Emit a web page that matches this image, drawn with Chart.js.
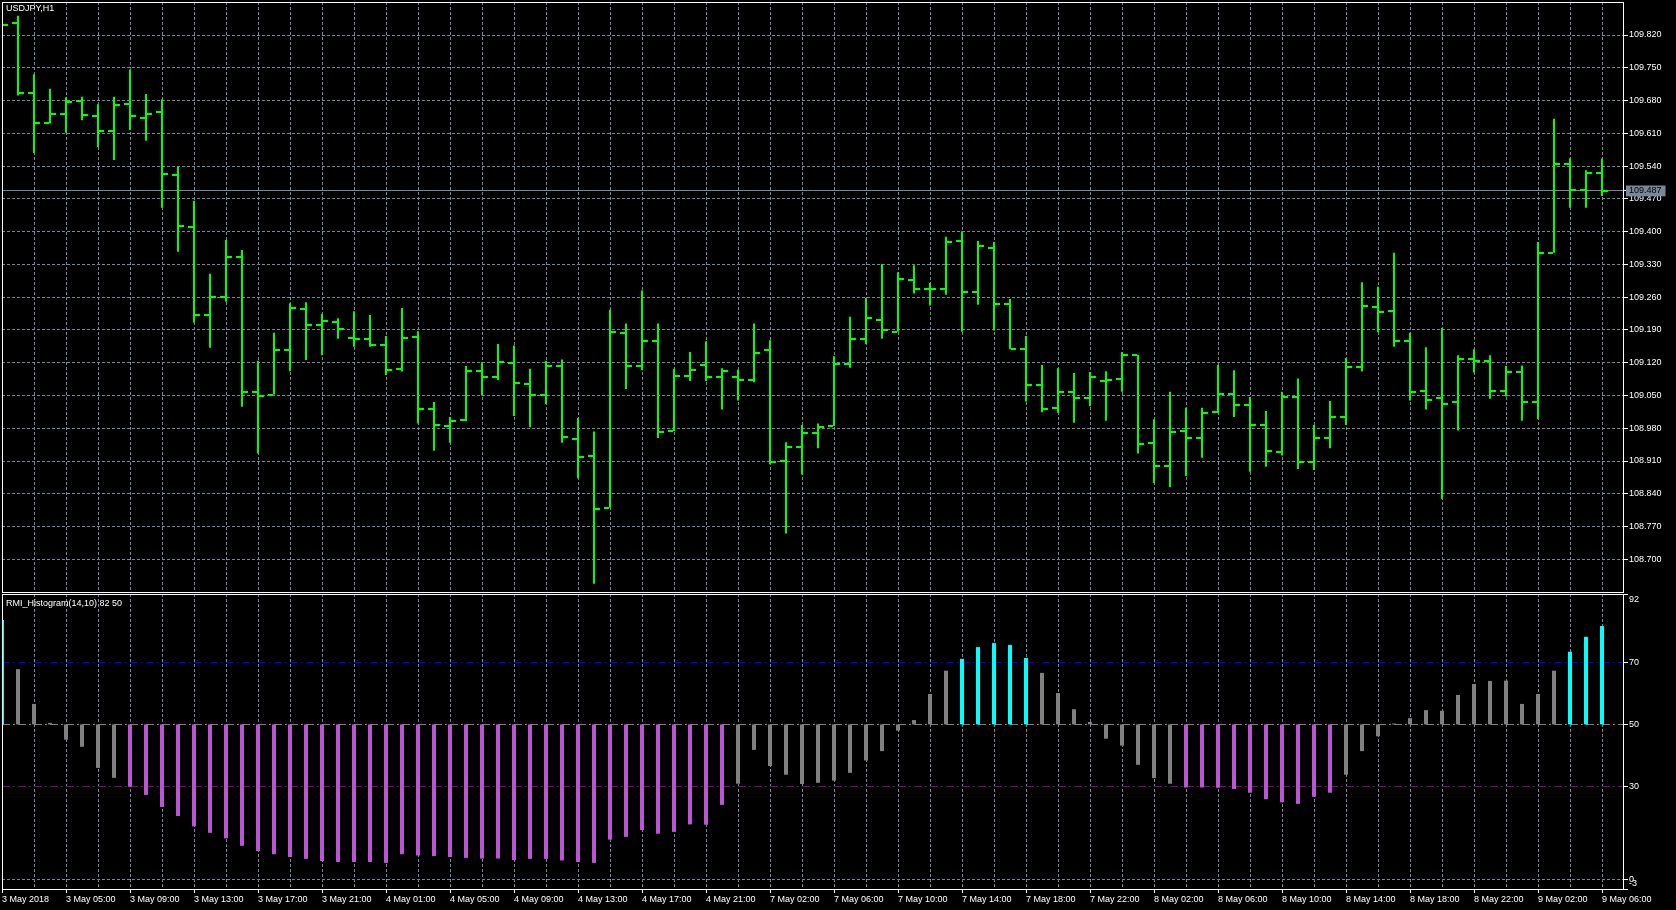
<!DOCTYPE html>
<html>
<head>
<meta charset="utf-8">
<title>USDJPY,H1</title>
<script src="https://cdn.jsdelivr.net/npm/chart.js@4.4.0/dist/chart.umd.min.js"></script>
<style>
  html, body { margin: 0; padding: 0; background: #000; overflow: hidden; }
  #pricePane { position: absolute; left: 0; top: 0; }
  #rmiPane { position: absolute; left: 0; top: 593px; }
</style>
</head>
<body>
<canvas id="pricePane" width="1676" height="594"></canvas>
<canvas id="rmiPane" width="1676" height="317"></canvas>
<script>
// tick labels of the time axis, one every 4 hourly bars
const timeLabels = ['3 May 2018', '3 May 05:00', '3 May 09:00', '3 May 13:00', '3 May 17:00', '3 May 21:00',
  '4 May 01:00', '4 May 05:00', '4 May 09:00', '4 May 13:00', '4 May 17:00', '4 May 21:00',
  '7 May 02:00', '7 May 06:00', '7 May 10:00', '7 May 14:00', '7 May 18:00', '7 May 22:00',
  '8 May 02:00', '8 May 06:00', '8 May 10:00', '8 May 14:00', '8 May 18:00', '8 May 22:00',
  '9 May 02:00', '9 May 06:00'];

const priceTicks = [108.700, 108.770, 108.840, 108.910, 108.980, 109.050, 109.120, 109.190, 109.260,
  109.330, 109.400, 109.470, 109.540, 109.610, 109.680, 109.750, 109.820];
const rmiTicks = [-3, 0, 30, 50, 70, 92];

// USDJPY H1 bars
const opens = [109.850, 109.845, 109.696, 109.633, 109.652, 109.678, 109.647, 109.614, 109.672, 109.642,
  109.656, 109.520, 109.410, 109.222, 109.260, 109.346, 109.058, 109.052, 109.148, 109.235,
  109.201, 109.207, 109.173, 109.171, 109.157, 109.107, 109.175, 109.022, 108.985, 108.997,
  109.102, 109.089, 109.120, 109.075, 109.051, 109.113, 108.957, 108.921, 108.810, 109.184,
  109.113, 109.167, 108.974, 109.092, 109.116, 109.089, 109.089, 109.083, 109.148, 108.910,
  108.939, 108.970, 108.985, 109.117, 109.170, 109.211, 109.186, 109.297, 109.278, 109.278,
  109.380, 109.271, 109.365, 109.246, 109.149, 109.072, 109.023, 109.058, 109.045, 109.081,
  109.085, 109.137, 108.949, 108.899, 108.974, 108.960, 109.014, 109.054, 109.030, 108.986,
  108.929, 109.047, 108.908, 108.960, 109.005, 109.110, 109.240, 109.231, 109.167, 109.060,
  109.045, 109.036, 109.128, 109.124, 109.060, 109.100, 109.036, 109.355, 109.545, 109.488,
  109.526];
const highs = [109.862, 109.861, 109.736, 109.705, 109.687, 109.688, 109.672, 109.688, 109.746, 109.694,
  109.683, 109.539, 109.466, 109.310, 109.382, 109.361, 109.124, 109.184, 109.247, 109.249,
  109.224, 109.215, 109.230, 109.222, 109.177, 109.237, 109.187, 109.036, 109.004, 109.113,
  109.121, 109.160, 109.157, 109.107, 109.124, 109.127, 109.002, 108.973, 109.233, 109.204,
  109.274, 109.204, 109.107, 109.143, 109.166, 109.108, 109.105, 109.204, 109.168, 108.950,
  108.987, 108.990, 109.134, 109.218, 109.258, 109.331, 109.313, 109.328, 109.290, 109.389,
  109.401, 109.380, 109.378, 109.256, 109.177, 109.115, 109.108, 109.098, 109.100, 109.102,
  109.143, 109.137, 108.999, 109.058, 109.024, 109.024, 109.115, 109.104, 109.047, 109.017,
  109.058, 109.086, 108.987, 109.038, 109.130, 109.292, 109.282, 109.355, 109.184, 109.153,
  109.194, 109.136, 109.149, 109.136, 109.113, 109.114, 109.378, 109.641, 109.557, 109.531,
  109.556];
const lows = [109.836, 109.691, 109.568, 109.631, 109.611, 109.638, 109.581, 109.553, 109.617, 109.594,
  109.451, 109.357, 109.206, 109.152, 109.250, 109.026, 108.926, 109.052, 109.102, 109.126,
  109.136, 109.171, 109.154, 109.154, 109.094, 109.101, 108.990, 108.932, 108.949, 108.995,
  109.050, 109.083, 109.006, 108.982, 109.032, 108.949, 108.873, 108.648, 108.810, 109.064,
  109.104, 108.959, 108.974, 109.081, 109.081, 109.020, 109.039, 109.078, 108.903, 108.755,
  108.881, 108.937, 108.985, 109.109, 109.160, 109.171, 109.186, 109.268, 109.242, 109.265,
  109.186, 109.244, 109.189, 109.149, 109.037, 109.014, 109.013, 108.992, 109.027, 108.996,
  109.058, 108.926, 108.863, 108.854, 108.878, 108.917, 109.012, 109.004, 108.887, 108.898,
  108.922, 108.893, 108.891, 108.937, 108.987, 109.101, 109.185, 109.154, 109.039, 109.020,
  108.829, 108.975, 109.099, 109.043, 109.048, 108.996, 109.000, 109.355, 109.451, 109.451,
  109.476];
const closes = [109.842, 109.697, 109.633, 109.652, 109.676, 109.650, 109.616, 109.670, 109.646, 109.652,
  109.524, 109.413, 109.222, 109.260, 109.346, 109.058, 109.049, 109.148, 109.237, 109.201,
  109.210, 109.191, 109.170, 109.158, 109.105, 109.173, 109.022, 108.987, 108.996, 109.102,
  109.089, 109.122, 109.077, 109.050, 109.112, 108.962, 108.919, 108.807, 109.186, 109.112,
  109.167, 108.973, 109.092, 109.105, 109.089, 109.102, 109.083, 109.141, 108.907, 108.939,
  108.970, 108.983, 109.117, 109.170, 109.215, 109.190, 109.299, 109.278, 109.278, 109.378,
  109.271, 109.370, 109.246, 109.149, 109.072, 109.022, 109.058, 109.045, 109.089, 109.084,
  109.137, 108.946, 108.899, 108.973, 108.960, 109.013, 109.054, 109.030, 108.986, 108.932,
  109.047, 108.908, 108.960, 109.005, 109.110, 109.242, 109.229, 109.167, 109.058, 109.040,
  109.032, 109.128, 109.124, 109.060, 109.100, 109.036, 109.355, 109.545, 109.488, 109.526,
  109.487];

// RMI_Histogram(14,10) values
const rmi = [83.6, 67.8, 56.6, 50.5, 45.1, 42.8, 36.0, 32.8, 29.9, 27.3,
  23.4, 20.5, 17.2, 15.1, 13.3, 10.9, 9.2, 8.2, 7.3, 6.7,
  6.0, 5.7, 5.7, 5.7, 5.4, 8.2, 7.8, 7.6, 7.3, 7.0,
  6.8, 6.8, 6.3, 6.7, 6.7, 6.2, 5.7, 5.4, 12.9, 13.8,
  16.0, 14.8, 15.4, 17.8, 17.7, 24.1, 30.9, 41.8, 36.6, 33.8,
  30.8, 31.2, 31.9, 34.4, 38.4, 41.4, 48.0, 51.4, 59.8, 67.3,
  71.1, 74.9, 76.2, 75.6, 71.4, 66.6, 60.1, 54.9, 50.8, 45.4,
  43.2, 37.0, 32.7, 30.9, 29.7, 29.7, 29.6, 29.2, 28.0, 25.9,
  24.9, 24.4, 26.7, 28.0, 33.8, 41.4, 46.2, 50.3, 52.0, 54.6,
  54.4, 59.5, 63.0, 64.0, 64.1, 56.6, 59.8, 67.3, 73.4, 78.2,
  81.7];
const RMI_BASE = 50, RMI_HIGH = 70, RMI_LOW = 30;

const BAR_COLOR = '#00ff00';
const GRID = '#778899';
const lastClose = closes[closes.length - 1];
const xMax = 101.3125;   // empty space right of the last bar (chart shift)

Chart.defaults.font.family = '"Liberation Sans", Arial, sans-serif';
Chart.defaults.font.size = 9;
Chart.defaults.color = '#fff';

// little horizontal ticks for open (left) and close (right)
function tickImage(side) {
  const c = document.createElement('canvas');
  c.width = 12; c.height = 2;
  const g = c.getContext('2d');
  g.fillStyle = BAR_COLOR;
  if (side === 'open') g.fillRect(0, 0, 5, 2);
  else g.fillRect(7, 0, 5, 2);
  return c;
}

// no extra room for half labels at the ends of an axis
function noLabelPadding(s) {
  s.paddingTop = 0; s.paddingBottom = 0; s.paddingLeft = 0; s.paddingRight = 0;
}

const framePlugin = {
  id: 'frame',
  beforeDatasetsDraw(chart) {
    chart.ctx.imageSmoothingEnabled = false;
  },
  afterDraw(chart, args, opts) {
    const { ctx, chartArea: a } = chart;
    ctx.save();
    ctx.strokeStyle = '#fff';
    ctx.lineWidth = 1;
    ctx.strokeRect(a.left + 0.5, a.top + 0.5, a.right - a.left, a.bottom - a.top);
    ctx.fillStyle = '#fff';
    ctx.font = '9px "Liberation Sans", Arial, sans-serif';
    ctx.textBaseline = 'top';
    ctx.fillText(opts.text, a.left + 4, a.top + opts.dy);
    ctx.restore();
  }
};

function timeScale(showLabels) {
  return {
    type: 'linear',
    min: 0,
    max: xMax,
    offset: false,
    afterBuildTicks: s => {
      s.ticks = [];
      for (let v = 0; v < closes.length; v += 2) s.ticks.push({ value: v });
    },
    afterFit: s => { noLabelPadding(s); s.height = showLabels ? 21 : 0; },
    grid: {
      color: GRID,
      offset: false,
      drawTicks: showLabels,
      tickLength: 4,
      tickColor: c => (c.tick && c.tick.value % 4 === 0) ? '#fff' : 'rgba(0,0,0,0)'
    },
    border: { display: false, dash: [3, 2] },
    ticks: {
      display: showLabels,
      autoSkip: false,
      maxRotation: 0,
      align: 'start',
      padding: 1,
      callback: v => v % 4 === 0 ? timeLabels[v / 4] : ''
    }
  };
}

new Chart(document.getElementById('pricePane'), {
  type: 'bar',
  data: {
    datasets: [
      {
        label: 'range',
        data: highs.map((h, i) => ({ x: i, y: [lows[i], h] })),
        backgroundColor: BAR_COLOR,
        borderWidth: 0,
        barThickness: 2,
        inflateAmount: 0
      },
      {
        type: 'line',
        label: 'open',
        data: opens.map((v, i) => ({ x: i, y: v })),
        showLine: false,
        pointStyle: tickImage('open'),
        pointRadius: 3
      },
      {
        type: 'line',
        label: 'close',
        data: closes.map((v, i) => ({ x: i, y: v })),
        showLine: false,
        pointStyle: tickImage('close'),
        pointRadius: 3
      }
    ]
  },
  options: {
    responsive: false,
    animation: false,
    events: [],
    layout: { autoPadding: false, padding: { left: 2, top: 2, right: 0, bottom: 2 } },
    plugins: {
      legend: { display: false },
      tooltip: { enabled: false },
      frame: { text: 'USDJPY,H1', dy: 2 }
    },
    scales: {
      x: timeScale(false),
      y: {
        position: 'right',
        min: 108.6302,
        max: 109.8905,
        afterBuildTicks: s => {
          s.ticks = priceTicks.concat([lastClose]).sort((a, b) => a - b).map(v => ({ value: v }));
        },
        afterFit: s => { noLabelPadding(s); s.width = 53; },
        grid: { color: GRID, tickLength: 5, tickColor: '#fff' },
        border: { display: false, dash: c => (c.tick && c.tick.value === lastClose) ? [] : [3, 2] },
        ticks: {
          padding: 1,
          autoSkip: false,
          color: c => (c.tick && c.tick.value === lastClose) ? '#000' : '#fff',
          showLabelBackdrop: c => !!(c.tick && c.tick.value === lastClose),
          backdropColor: GRID,
          backdropPadding: { left: 3, right: 4, top: 0, bottom: 0 },
          callback: v => v.toFixed(3)
        }
      }
    }
  },
  plugins: [framePlugin]
});

const levelColors = { 70: '#0000ff', 50: '#808080', 30: '#800080', 0: GRID };

new Chart(document.getElementById('rmiPane'), {
  type: 'bar',
  data: {
    datasets: [{
      label: 'RMI',
      data: rmi.map((v, i) => ({ x: i, y: [RMI_BASE, v] })),
      backgroundColor: c => {
        const v = rmi[c.dataIndex];
        if (v > RMI_HIGH) return '#00ffff';
        if (v < RMI_LOW) return '#ba55d3';
        return '#808080';
      },
      borderWidth: 0,
      barThickness: 4,
      inflateAmount: 0
    }]
  },
  options: {
    responsive: false,
    animation: false,
    events: [],
    layout: { autoPadding: false, padding: { left: 2, top: 1, right: 0, bottom: 0 } },
    plugins: {
      legend: { display: false },
      tooltip: { enabled: false },
      frame: { text: 'RMI_Histogram(14,10) 82 50', dy: 5 }
    },
    scales: {
      x: timeScale(true),
      y: {
        position: 'right',
        min: -3,
        max: 92,
        afterBuildTicks: s => { s.ticks = rmiTicks.map(v => ({ value: v })); },
        afterFit: s => { noLabelPadding(s); s.width = 53; },
        grid: {
          color: c => (c.tick && levelColors[c.tick.value]) || 'rgba(0,0,0,0)',
          tickLength: 5,
          tickColor: '#fff'
        },
        border: { display: false, dash: c => (c.tick && c.tick.value === 0) ? [3, 2] : [8, 3, 2, 3] },
        ticks: {
          padding: 1,
          autoSkip: false,
          callback: v => v === 92 ? ['', '92'] : v === -3 ? ['-3', ''] : String(v)
        }
      }
    }
  },
  plugins: [framePlugin]
});
</script>
</body>
</html>
